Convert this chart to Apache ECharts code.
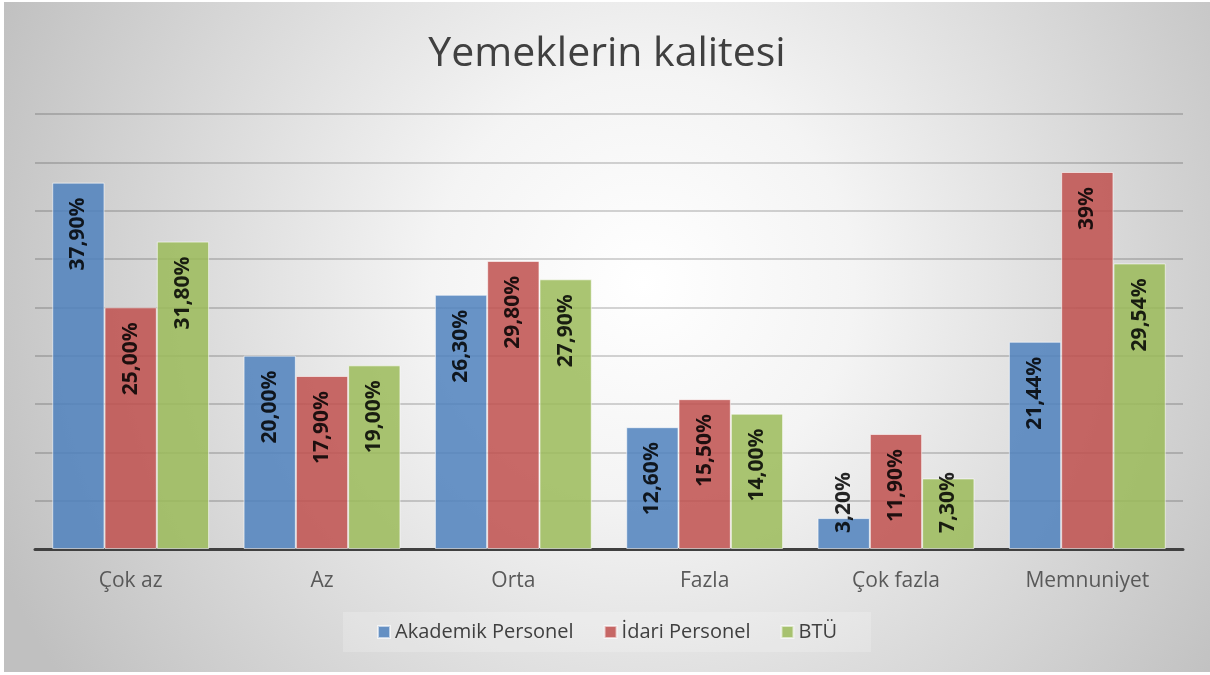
<!DOCTYPE html>
<html>
<head>
<meta charset="utf-8">
<title>Yemeklerin kalitesi</title>
<script src="https://cdn.jsdelivr.net/npm/echarts@6/dist/echarts.min.js"></script>
<style>
    html, body { margin: 0; padding: 0; background: #ffffff; }
    #chart { position: absolute; left: 4px; top: 2px; width: 1206px; height: 670px; }
</style>
</head>
<body>
<div id="chart"></div>
<script>
// kategoriler
var categories = ['Çok az', 'Az', 'Orta', 'Fazla', 'Çok fazla', 'Memnuniyet'];
var seriesNames = ['Akademik Personel', 'İdari Personel', 'BTÜ'];

// yüzde değerleri
var akademik = [37.9, 20.0, 26.3, 12.6, 3.2, 21.44];
var idari = [25.0, 17.9, 29.8, 15.5, 11.9, 39];
var btu = [31.8, 19.0, 27.9, 14.0, 7.3, 29.54];

// etiket metinleri
var akademikLabels = ['37,90%', '20,00%', '26,30%', '12,60%', '3,20%', '21,44%'];
var idariLabels = ['25,00%', '17,90%', '29,80%', '15,50%', '11,90%', '39%'];
var btuLabels = ['31,80%', '19,00%', '27,90%', '14,00%', '7,30%', '29,54%'];

var colors = ['#4f81bd', '#c0504d', '#9bbb59'];

function buildData(values) {
    return values.map(function (v) {
        // küçük çubuklarda etiket alttan başlıyor
        if (v < 10) {
            return { value: v, label: { position: 'insideBottom', align: 'left', distance: 16 } };
        }
        return v;
    });
}

function makeSeries(name, values, labels, color) {
    return {
        name: name,
        type: 'bar',
        barGap: '0%',
        barCategoryGap: '18%',
        data: buildData(values),
        itemStyle: {
            color: color,
            opacity: 0.85,
            borderColor: 'rgba(255,255,255,0.7)',
            borderWidth: 1
        },
        label: {
            show: true,
            position: 'insideTop',
            rotate: 90,
            align: 'right',
            verticalAlign: 'middle',
            distance: 15,
            fontFamily: 'Open Sans',
            fontWeight: 'bold',
            fontSize: 21,
            color: '#000000',
            formatter: function (p) { return labels[p.dataIndex]; }
        }
    };
}

var chart = echarts.init(document.getElementById('chart'));
var option = {
    backgroundColor: {
        type: 'radial',
        x: 0.53, y: 0.42, r: 1.05,
        colorStops: [
            { offset: 0, color: '#ffffff' },
            { offset: 0.3, color: '#f4f4f4' },
            { offset: 1, color: '#c0c0c0' }
        ]
    },
    color: colors,
    title: {
        text: 'Yemeklerin kalitesi',
        left: 'center',
        top: 27,
        textStyle: {
            fontFamily: 'Open Sans',
            fontSize: 41,
            fontWeight: 'normal',
            color: '#404040'
        }
    },
    legend: {
        data: seriesNames,
        left: 'center',
        top: 610,
        icon: 'rect',
        itemWidth: 12,
        itemHeight: 12,
        itemGap: 30,
        padding: [10, 34],
        backgroundColor: 'rgba(255,255,255,0.2)',
        textStyle: {
            fontFamily: 'Open Sans',
            fontSize: 20,
            color: '#404040'
        }
    },
    grid: {
        left: 31,
        right: 27,
        top: 112,
        bottom: 123
    },
    xAxis: {
        type: 'category',
        data: categories,
        axisTick: { show: false },
        axisLine: { lineStyle: { color: '#404040', width: 3 } },
        axisLabel: {
            margin: 22,
            fontFamily: 'Open Sans',
            fontSize: 21,
            color: '#595959'
        }
    },
    yAxis: {
        type: 'value',
        min: 0,
        max: 45,
        interval: 5,
        axisLabel: { show: false },
        axisLine: { show: false },
        axisTick: { show: false },
        splitLine: { lineStyle: { color: 'rgba(0,0,0,0.22)', width: 1.5 } }
    },
    series: [
        makeSeries(seriesNames[0], akademik, akademikLabels, colors[0]),
        makeSeries(seriesNames[1], idari, idariLabels, colors[1]),
        makeSeries(seriesNames[2], btu, btuLabels, colors[2])
    ]
};
chart.setOption(option);
</script>
</body>
</html>
